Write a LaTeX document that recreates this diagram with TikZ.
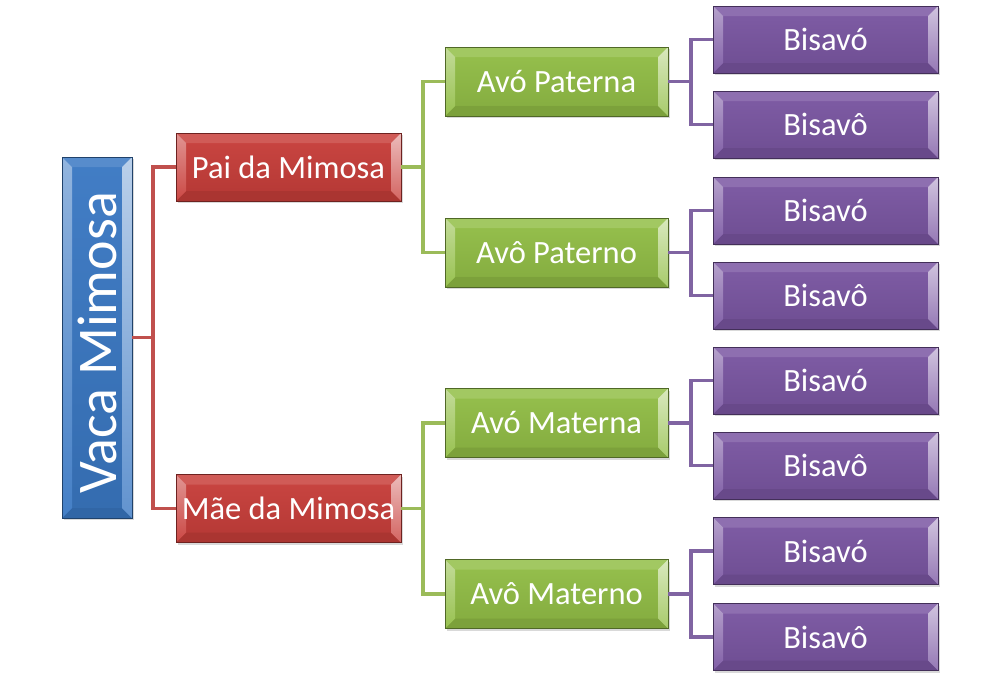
\documentclass[tikz,border=0pt]{standalone}
\usepackage{fontspec}
\setmainfont{Carlito}
\usetikzlibrary{shadows,calc}
\definecolor{cblue}{RGB}{58,120,195}
\definecolor{cred}{RGB}{200,62,58}
\definecolor{cgreen}{RGB}{146,190,70}
\definecolor{cpurple}{RGB}{122,86,162}
\definecolor{lred}{RGB}{192,80,77}
\definecolor{lgreen}{RGB}{155,187,89}
\definecolor{lpurple}{RGB}{128,100,162}
\tikzset{
  bev/.style={rectangle, inner sep=0pt, text=white,
    font=\fontsize{32.5}{36}\selectfont,
    top color=#1!96!white, bottom color=#1!90!black,
    draw=#1!55!black, line width=0.5pt,
    drop shadow={shadow xshift=1.5pt, shadow yshift=-2pt, opacity=0.3},
    path picture={
      \path (path picture bounding box.north west) coordinate (pNW)
            (path picture bounding box.north east) coordinate (pNE)
            (path picture bounding box.south west) coordinate (pSW)
            (path picture bounding box.south east) coordinate (pSE);
      \fill[#1!85!white] (pNW) -- (pNE) -- ([shift={(-10pt,-10pt)}]pNE) -- ([shift={(10pt,-10pt)}]pNW) -- cycle;
      \fill[#1!85!black] (pSW) -- (pSE) -- ([shift={(-10pt,10pt)}]pSE) -- ([shift={(10pt,10pt)}]pSW) -- cycle;
      \shade[top color=#1!55!white, bottom color=#1!95!white] (pNW) -- ([shift={(10pt,-10pt)}]pNW) -- ([shift={(10pt,10pt)}]pSW) -- (pSW) -- cycle;
      \shade[top color=#1!35!white, bottom color=#1!80!white] (pNE) -- ([shift={(-10pt,-10pt)}]pNE) -- ([shift={(-10pt,10pt)}]pSE) -- (pSE) -- cycle;
    }},
  redbox/.style={bev=cred, minimum width=225pt, minimum height=68pt},
  greenbox/.style={bev=cgreen, minimum width=223pt, minimum height=69pt},
  purplebox/.style={bev=cpurple, minimum width=225pt, minimum height=67pt},
  rootbox/.style={bev=cblue, minimum width=70pt, minimum height=361pt},
  conn/.style={line width=3.6pt, draw=#1},
}
\begin{document}
\begin{tikzpicture}[x=1pt,y=-1pt]
\useasboundingbox (0,0) rectangle (1000,688);
% root
\node[rootbox] (root) at (97,337.5) {};
\node[text=white, font=\fontsize{56}{60}\selectfont, rotate=90] (roottext) at (97,343) {Vaca Mimosa};
% level 1
\node[redbox] (pai) at (288.5,167) {Pai da Mimosa};
\node[redbox] (mae) at (288.5,508.5) {Mãe da Mimosa};
% level 2
\node[greenbox] (avoa1) at (556.5,81.5) {Avó Paterna};
\node[greenbox] (avoo1) at (556.5,252.5) {Avô Paterno};
\node[greenbox] (avoa2) at (556.5,423) {Avó Materna};
\node[greenbox] (avoo2) at (556.5,594) {Avô Materno};
% level 3
\node[purplebox] (b1) at (825.5,39.5) {Bisavó};
\node[purplebox] (b2) at (825.5,124.5) {Bisavô};
\node[purplebox] (b3) at (825.5,210.5) {Bisavó};
\node[purplebox] (b4) at (825.5,295.5) {Bisavô};
\node[purplebox] (b5) at (825.5,380.5) {Bisavó};
\node[purplebox] (b6) at (825.5,465.5) {Bisavô};
\node[purplebox] (b7) at (825.5,551) {Bisavó};
\node[purplebox] (b8) at (825.5,637) {Bisavô};
% junctions
\coordinate (j0) at (153,337.5);
\coordinate (j1) at (423,167);
\coordinate (j2) at (423,508.5);
\coordinate (k1) at (691,81.5);
\coordinate (k2) at (691,252.5);
\coordinate (k3) at (691,423);
\coordinate (k4) at (691,594);
\draw[conn=lred] (root.east) -- (j0);
\draw[conn=lred] (j0) |- (pai.west);
\draw[conn=lred] (j0) |- (mae.west);
\draw[conn=lgreen] (pai.east) -- (j1);
\draw[conn=lgreen] (j1) |- (avoa1.west);
\draw[conn=lgreen] (j1) |- (avoo1.west);
\draw[conn=lgreen] (mae.east) -- (j2);
\draw[conn=lgreen] (j2) |- (avoa2.west);
\draw[conn=lgreen] (j2) |- (avoo2.west);
\draw[conn=lpurple] (avoa1.east) -- (k1);
\draw[conn=lpurple] (k1) |- (b1.west);
\draw[conn=lpurple] (k1) |- (b2.west);
\draw[conn=lpurple] (avoo1.east) -- (k2);
\draw[conn=lpurple] (k2) |- (b3.west);
\draw[conn=lpurple] (k2) |- (b4.west);
\draw[conn=lpurple] (avoa2.east) -- (k3);
\draw[conn=lpurple] (k3) |- (b5.west);
\draw[conn=lpurple] (k3) |- (b6.west);
\draw[conn=lpurple] (avoo2.east) -- (k4);
\draw[conn=lpurple] (k4) |- (b7.west);
\draw[conn=lpurple] (k4) |- (b8.west);
\end{tikzpicture}
\end{document}
